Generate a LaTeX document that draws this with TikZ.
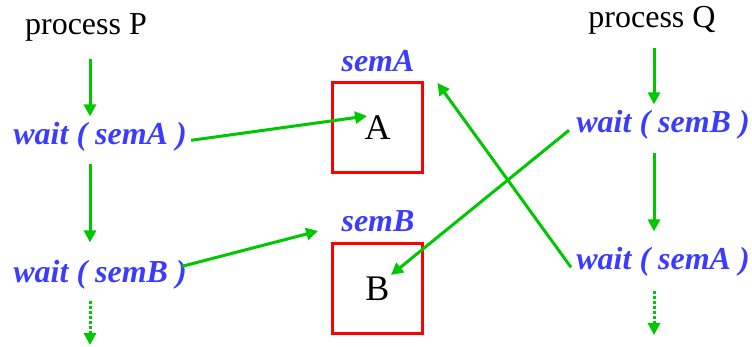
\documentclass[tikz,border=0pt]{standalone}
\usepackage{fontspec}
\setmainfont{Liberation Serif}
\usetikzlibrary{arrows.meta}
\definecolor{semGreen}{HTML}{00C800}
\definecolor{semBlue}{HTML}{3C3CFF}
\definecolor{semRed}{HTML}{FF0000}

\begin{document}
\begin{tikzpicture}[
    x=0.5pt,y=-0.5pt,>=Triangle,
    every node/.style={inner sep=0pt,anchor=base},
    proc/.style={font=\fontsize{16}{19}\selectfont},
    call/.style={font=\fontsize{16}{19}\selectfont\bfseries\itshape,text=semBlue,anchor=base west},
    semname/.style={font=\fontsize{16}{19}\selectfont\bfseries\itshape,text=semBlue},
    sembox/.style={draw=semRed,line width=1.5pt,minimum size=45pt,anchor=center,font=\fontsize{18}{21}\selectfont},
    flow/.style={-{Triangle[length=6pt,width=6pt]},draw=semGreen,line width=1.5pt},
    more/.style={flow,dash pattern=on 1.5pt off 1pt}
]
\useasboundingbox (0,0) rectangle (752,347);
\node[proc] (procP) at (86,35) {process P};
\node[proc] (procQ) at (652,28) {process Q};
\node[call] (wPA) at (13,145) {wait ( semA )};
\node[call] (wPB) at (13,283) {wait ( semB )};
\node[call] (wQB) at (576,133) {wait ( semB )};
\node[call] (wQA) at (576,270) {wait ( semA )};
\node[semname] (nameA) at (378,72) {semA};
\node[semname] (nameB) at (378,232) {semB};
\node[sembox] (boxA) at (377.5,128) {A};
\node[sembox] (boxB) at (377.5,289) {B};
\coordinate (colP) at (90,0);
\coordinate (colQ) at (654,0);
\coordinate (endP) at (90,345);
\coordinate (endQ) at (654,335);
% process P
\draw[flow,shorten <=8.5pt,shorten >=3pt] (procP.south -| colP) -- (wPA.north -| colP);
\draw[flow,shorten <=6pt,shorten >=9pt] (wPA.south -| colP) -- (wPB.north -| colP);
\draw[more,shorten <=5.5pt] (wPB.south -| colP) -- (endP);
% process Q
\draw[flow,shorten <=6.5pt,shorten >=3pt] (procQ.south -| colQ) -- (wQB.north -| colQ);
\draw[flow,shorten <=6.5pt,shorten >=8pt] (wQB.south -| colQ) -- (wQA.north -| colQ);
\draw[more,shorten <=7pt] (wQA.south -| colQ) -- (endQ);
% requests
\draw[flow] ([shift={(4,3)}]wPA.east) -- ([shift={(-10.5,-12)}]boxA.center);
\draw[flow] ([shift={(-5,-9)}]wPB.east) -- ([shift={(-23,-1)}]nameB.base west);
\draw[flow] ([shift={(-7,5)}]wQB.west) -- ([shift={(13.5,-14)}]boxB.center);
\draw[flow] ([shift={(-5,5)}]wQA.west) -- ([shift={(13.5,1.5)}]boxA.north east);
\end{tikzpicture}
\end{document}
